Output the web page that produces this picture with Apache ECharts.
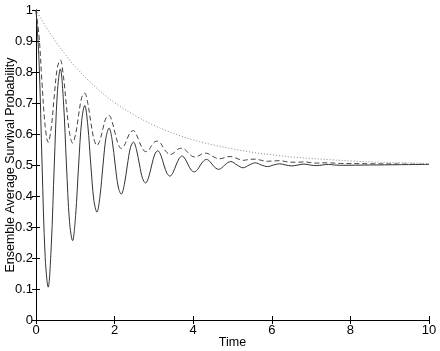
<!DOCTYPE html>
<html>
<head>
<meta charset="utf-8">
<script src="https://cdn.jsdelivr.net/npm/echarts@6/dist/echarts.min.js"></script>
<style>
  html, body { margin: 0; padding: 0; background: #fff; }
  #chart { width: 440px; height: 351px; }
</style>
</head>
<body>
<div id="chart"></div>
<script>
// time samples for the two oscillating curves
const time = [
    0, 0.078, 0.155, 0.233, 0.31, 0.388, 0.465, 0.543, 0.62, 0.698,
    0.775, 0.853, 0.93, 1.008, 1.085, 1.163, 1.24, 1.318, 1.395, 1.473,
    1.55, 1.628, 1.705, 1.783, 1.86, 1.938, 2.015, 2.093, 2.17, 2.248,
    2.325, 2.403, 2.48, 2.558, 2.635, 2.713, 2.79, 2.868, 2.945, 3.023,
    3.1, 3.178, 3.255, 3.333, 3.41, 3.488, 3.565, 3.643, 3.72, 3.798,
    3.875, 3.953, 4.03, 4.108, 4.185, 4.263, 4.34, 4.418, 4.495, 4.573,
    4.65, 4.728, 4.805, 4.883, 4.96,
    5.115, 5.27, 5.425, 5.58, 5.735, 5.89, 6.045, 6.2, 6.355, 6.51,
    6.665, 6.82, 6.975, 7.13, 7.285, 7.44, 7.595, 7.75, 8.5, 9.25, 10
];
// solid curve
const solid = [
    1.000, 0.833, 0.500, 0.204, 0.106, 0.238, 0.500, 0.733, 0.810, 0.707,
    0.500, 0.317, 0.256, 0.337, 0.500, 0.644, 0.692, 0.628, 0.500, 0.386,
    0.348, 0.399, 0.500, 0.590, 0.619, 0.580, 0.500, 0.429, 0.406, 0.437,
    0.500, 0.556, 0.574, 0.549, 0.500, 0.456, 0.442, 0.461, 0.500, 0.535,
    0.546, 0.531, 0.500, 0.473, 0.464, 0.476, 0.500, 0.521, 0.529, 0.519,
    0.500, 0.483, 0.478, 0.485, 0.500, 0.513, 0.518, 0.512, 0.500, 0.490,
    0.486, 0.491, 0.500, 0.508, 0.511,
    0.500, 0.491, 0.500, 0.507, 0.500, 0.495, 0.500, 0.504, 0.500, 0.497,
    0.500, 0.503, 0.500, 0.498, 0.500, 0.502, 0.500, 0.499, 0.500, 0.501, 0.502
];
// dashed curve
const dashed = [
    0.997, 0.915, 0.761, 0.625, 0.573, 0.620, 0.723, 0.814, 0.839, 0.786,
    0.690, 0.604, 0.571, 0.599, 0.662, 0.718, 0.732, 0.699, 0.638, 0.584,
    0.563, 0.580, 0.618, 0.652, 0.660, 0.639, 0.601, 0.567, 0.553, 0.563,
    0.586, 0.606, 0.611, 0.597, 0.573, 0.552, 0.543, 0.548, 0.563, 0.575,
    0.577, 0.569, 0.553, 0.540, 0.534, 0.537, 0.546, 0.553, 0.554, 0.549,
    0.539, 0.530, 0.526, 0.528, 0.533, 0.538, 0.538, 0.534, 0.528, 0.523,
    0.520, 0.521, 0.524, 0.527, 0.527,
    0.521, 0.515, 0.518, 0.519, 0.515, 0.512, 0.513, 0.514, 0.511, 0.509,
    0.509, 0.510, 0.508, 0.506, 0.507, 0.507, 0.506, 0.505, 0.504, 0.503, 0.502
];
// dotted curve, its own samples
const timeDot = [0, 0.25, 0.5, 0.75, 1, 1.5, 2, 2.5, 3, 3.5, 4, 4.5, 5, 5.5, 6, 6.5, 7, 7.5, 8, 8.5, 9, 9.5, 10];
const dotted = [1.0, 0.946, 0.898, 0.856, 0.817, 0.753, 0.701, 0.661, 0.628, 0.602, 0.581, 0.565, 0.552, 0.541, 0.533, 0.526, 0.521, 0.517, 0.513, 0.510, 0.508, 0.507, 0.505];

const xTicks = { min: 0, max: 10, interval: 2 };
const yTicks = { min: 0, max: 1, interval: 0.1 };

const font = 'Liberation Sans, Arial, Helvetica, sans-serif';
const chart = echarts.init(document.getElementById('chart'), null, { renderer: 'canvas' });

const axisBase = {
    type: 'value',
    axisLine: { show: true, lineStyle: { color: '#000', width: 1 } },
    axisTick: { show: true, inside: true, length: 4, lineStyle: { color: '#000' } },
    splitLine: { show: false },
};

const pairs = (xs, ys) => xs.map((x, i) => [x, ys[i]]);

chart.setOption({
    animation: false,
    backgroundColor: '#fff',
    grid: { left: 36, right: 11, top: 10, bottom: 31, containLabel: false, outerBoundsMode: 'none' },
    xAxis: [
        {
            ...axisBase, ...xTicks, position: 'bottom',
            name: 'Time', nameLocation: 'middle', nameGap: 16, nameMoveOverlap: false,
            nameTextStyle: { color: '#000', fontSize: 12.5, fontFamily: font },
            axisLabel: { color: '#000', fontSize: 13, fontFamily: font, margin: 4 },
        },
        {
            ...axisBase, ...xTicks, position: 'top',
            axisLabel: { show: false },
        },
    ],
    yAxis: [
        {
            ...axisBase, ...yTicks, position: 'left',
            name: 'Ensemble Average Survival Probability', nameLocation: 'middle', nameGap: 19, nameMoveOverlap: false,
            nameTextStyle: { color: '#000', fontSize: 12.5, fontFamily: font },
            axisLabel: {
                color: '#000', fontSize: 13, fontFamily: font, margin: 3,
                formatter: v => String(+v.toFixed(1)),
            },
        },
        {
            ...axisBase, ...yTicks, position: 'right',
            axisLabel: { show: false },
        },
    ],
    series: [
        {
            name: 'solid', type: 'line', data: pairs(time, solid),
            smooth: 0.35, showSymbol: false,
            lineStyle: { color: '#333', width: 1 },
        },
        {
            name: 'dashed', type: 'line', data: pairs(time, dashed),
            smooth: 0.35, showSymbol: false,
            lineStyle: { color: '#444', width: 1, type: [5, 3] },
        },
        {
            name: 'dotted', type: 'line', data: pairs(timeDot, dotted),
            smooth: 0.35, showSymbol: false,
            lineStyle: { color: '#888', width: 1, type: [1, 2] },
        },
    ],
});
</script>
</body>
</html>
